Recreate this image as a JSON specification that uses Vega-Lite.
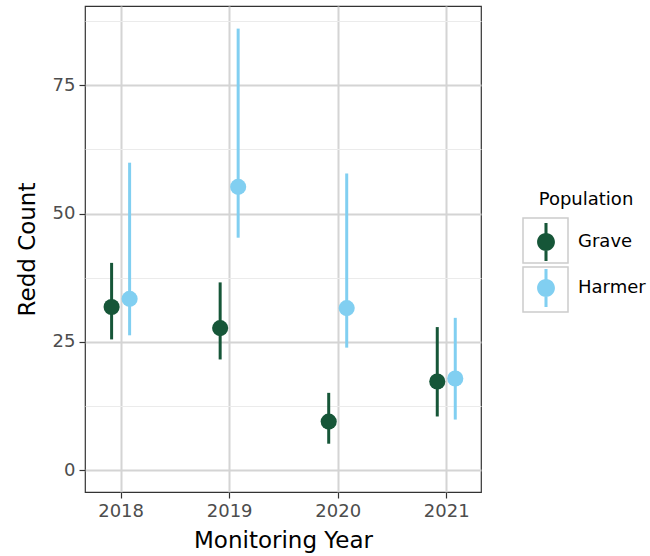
{
  "$schema": "https://vega.github.io/schema/vega-lite/v6.json",
  "autosize": {"type": "none"},
  "padding": {"left": 85, "top": 6, "right": 169, "bottom": 64},
  "width": 396,
  "height": 486,
  "background": "white",
  "config": {
    "font": "DejaVu Sans",
    "view": {"stroke": "#333333", "strokeWidth": 1.2},
    "axis": {
      "domain": false,
      "labelFont": "DejaVu Sans",
      "labelFontSize": 18,
      "labelColor": "#4D4D4D",
      "titleFont": "DejaVu Sans",
      "titleFontSize": 23,
      "titleFontWeight": "normal",
      "titleColor": "black",
      "tickColor": "#333333",
      "tickWidth": 1.2
    }
  },
  "data": {
    "values": [
      {"Year": 2018, "Population": "Grave", "Count": 31.8, "Lower": 25.5, "Upper": 40.4},
      {"Year": 2018, "Population": "Harmer", "Count": 33.4, "Lower": 26.3, "Upper": 59.9},
      {"Year": 2019, "Population": "Grave", "Count": 27.7, "Lower": 21.6, "Upper": 36.6},
      {"Year": 2019, "Population": "Harmer", "Count": 55.2, "Lower": 45.3, "Upper": 86.0},
      {"Year": 2020, "Population": "Grave", "Count": 9.5, "Lower": 5.2, "Upper": 15.1},
      {"Year": 2020, "Population": "Harmer", "Count": 31.6, "Lower": 23.9, "Upper": 57.8},
      {"Year": 2021, "Population": "Grave", "Count": 17.3, "Lower": 10.5, "Upper": 27.9},
      {"Year": 2021, "Population": "Harmer", "Count": 17.9, "Lower": 9.9, "Upper": 29.7}
    ]
  },
  "encoding": {
    "x": {
      "field": "Year",
      "type": "quantitative",
      "scale": {"domain": [2017.672, 2021.32], "nice": false, "zero": false},
      "axis": {
        "title": "Monitoring Year",
        "values": [2018, 2018.5, 2019, 2019.5, 2020, 2020.5, 2021],
        "format": "d",
        "labelExpr": "datum.value % 1 == 0 ? datum.label : ''",
        "tickSize": 6,
        "labelPadding": 4,
        "tickOpacity": {"condition": {"test": "datum.value % 1 != 0", "value": 0}, "value": 1},
        "gridColor": {"condition": {"test": "datum.value % 1 != 0", "value": "#EBEBEB"}, "value": "#D4D4D4"},
        "gridWidth": {"condition": {"test": "datum.value % 1 != 0", "value": 1}, "value": 2},
        "titleY": 48,
        "titleBaseline": "middle"
      }
    },
    "color": {
      "field": "Population",
      "type": "nominal",
      "scale": {"domain": ["Grave", "Harmer"], "range": ["#165638", "#81CFF1"]},
      "legend": {
        "orient": "none",
        "legendX": 442,
        "legendY": 185,
        "title": "Population",
        "titleFont": "DejaVu Sans",
        "titleFontSize": 18,
        "titleFontWeight": "normal",
        "titleColor": "black",
        "titleAnchor": "middle",
        "titlePadding": 14,
        "labelFont": "DejaVu Sans",
        "labelFontSize": 18,
        "labelColor": "black",
        "labelOffset": 13,
        "symbolType": "M-0.08,-1L0.08,-1L0.08,1L-0.08,1Z M-0.47,0 A0.47,0.47 0 1,1 0.47,0 A0.47,0.47 0 1,1 -0.47,0 Z",
        "symbolSize": 1444,
        "symbolStrokeWidth": 0,
        "symbolOpacity": 1,
        "rowPadding": 8,
        "padding": 0,
        "zindex": 2
      }
    }
  },
  "layer": [
    {
      "transform": [{"filter": "datum.Population == 'Grave'"}],
      "mark": {"type": "rule", "strokeWidth": 3, "xOffset": -9},
      "encoding": {
        "y": {
          "field": "Lower",
          "type": "quantitative",
          "scale": {"domain": [-4.2, 90.4], "nice": false, "zero": false},
          "axis": {
            "title": "Redd Count",
            "values": [0, 12.5, 25, 37.5, 50, 62.5, 75, 87.5],
            "labelExpr": "datum.value % 25 == 0 ? datum.label : ''",
            "tickSize": 6,
            "labelPadding": 4,
            "tickOpacity": {"condition": {"test": "datum.value % 25 != 0", "value": 0}, "value": 1},
            "gridColor": {"condition": {"test": "datum.value % 25 != 0", "value": "#EBEBEB"}, "value": "#D4D4D4"},
            "gridWidth": {"condition": {"test": "datum.value % 25 != 0", "value": 1}, "value": 2},
            "titleX": -58,
            "titleY": 243,
            "titleAngle": -90,
            "titleBaseline": "middle",
            "titleAlign": "center"
          }
        },
        "y2": {"field": "Upper"}
      }
    },
    {
      "transform": [{"filter": "datum.Population == 'Harmer'"}],
      "mark": {"type": "rule", "strokeWidth": 3, "xOffset": 9},
      "encoding": {
        "y": {"field": "Lower", "type": "quantitative"},
        "y2": {"field": "Upper"}
      }
    },
    {
      "transform": [{"filter": "datum.Population == 'Grave'"}],
      "mark": {"type": "point", "filled": true, "size": 260, "opacity": 1, "shape": "circle", "xOffset": -9},
      "encoding": {
        "y": {"field": "Count", "type": "quantitative"}
      }
    },
    {
      "transform": [{"filter": "datum.Population == 'Harmer'"}],
      "mark": {"type": "point", "filled": true, "size": 260, "opacity": 1, "shape": "circle", "xOffset": 9},
      "encoding": {
        "y": {"field": "Count", "type": "quantitative"}
      }
    },
    {
      "mark": {"type": "point", "opacity": 0, "filled": false},
      "encoding": {
        "y": {"field": "Count", "type": "quantitative"},
        "color": {"value": "transparent"},
        "shape": {
          "field": "Population",
          "type": "nominal",
          "scale": {"range": ["square", "square"]},
          "legend": {
            "orient": "none",
            "legendX": 437,
            "legendY": 211,
            "title": null,
            "labelExpr": "''",
            "labelOpacity": 0,
            "symbolSize": 2025,
            "symbolFillColor": "transparent",
            "symbolStrokeColor": "#CCCCCC",
            "symbolStrokeWidth": 1.5,
            "symbolOpacity": 1,
            "rowPadding": -6,
            "padding": 0,
            "zindex": 1
          }
        }
      }
    }
  ]
}
